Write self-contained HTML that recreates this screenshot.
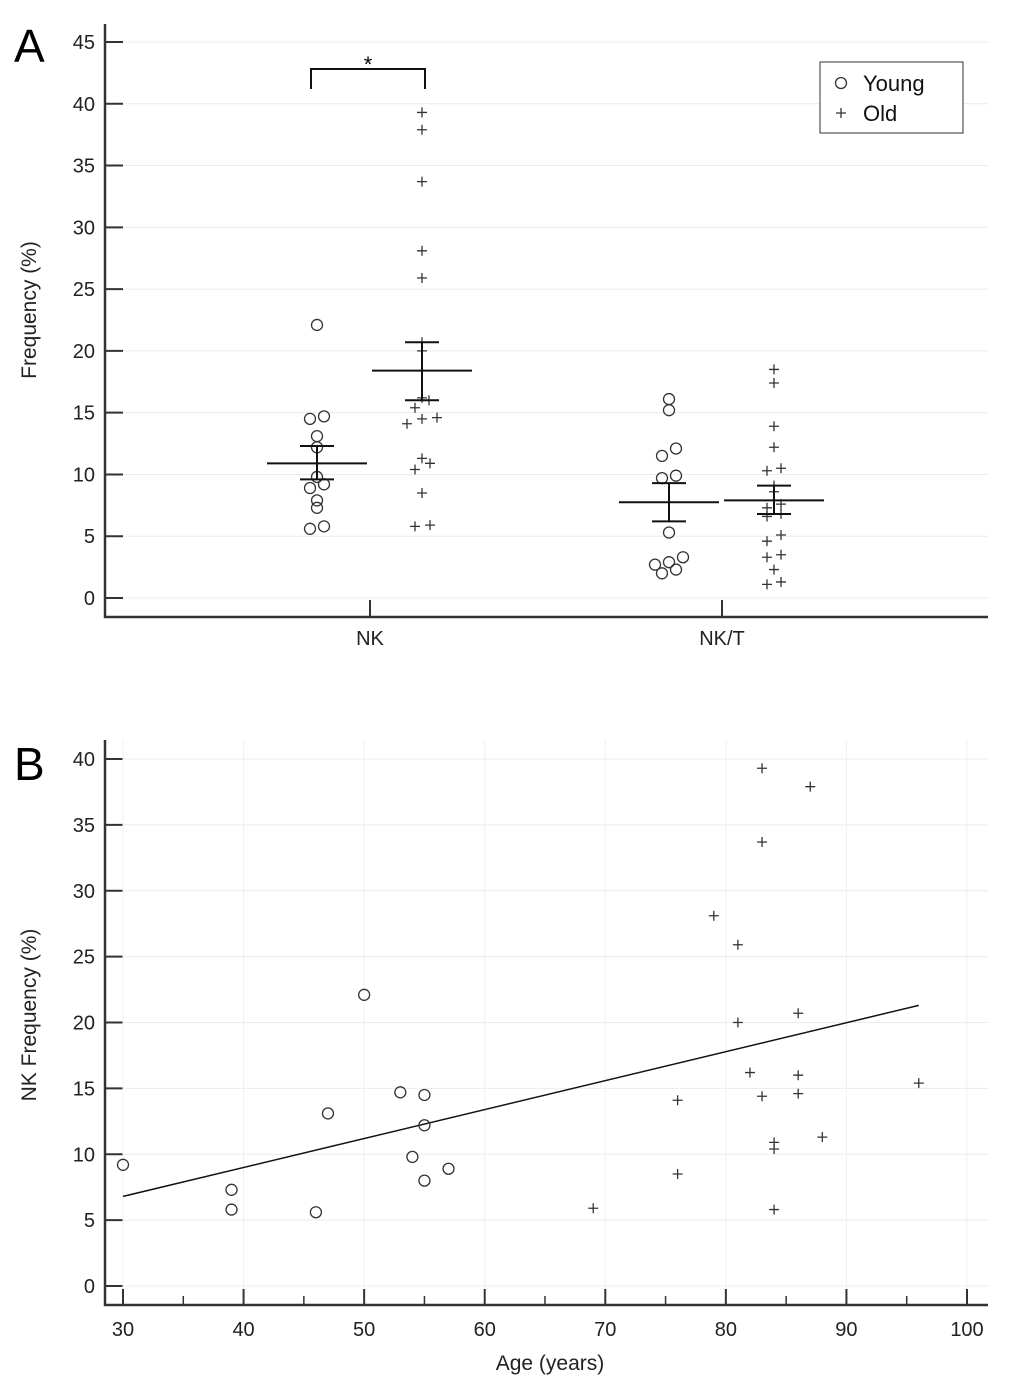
<!DOCTYPE html>
<html><head><meta charset="utf-8"><style>
html,body{margin:0;padding:0;background:#fff;}
svg{display:block;font-family:"Liberation Sans",sans-serif;}
</style></head><body>
<svg id="fig" width="1020" height="1396" viewBox="0 0 1020 1396" xmlns="http://www.w3.org/2000/svg">
<text x="14" y="62" font-size="46">A</text>
<text x="14" y="780" font-size="46">B</text>
<text transform="translate(36,310) rotate(-90)" text-anchor="middle" font-size="21" fill="#222">Frequency (%)</text>
<text transform="translate(36,1015) rotate(-90)" text-anchor="middle" font-size="21" fill="#222">NK Frequency (%)</text>
<text x="550" y="1370" text-anchor="middle" font-size="21" fill="#222">Age (years)</text>
<g id="ga"></g>
<g id="gb"></g>
</svg>
<script>
// Panel A data
const groups = ["NK","NK/T"];
const nkYoung = [22.1,14.7,14.5,13.1,12.2,9.8,9.2,8.9,7.9,7.3,5.8,5.6];
const nkOld = [39.3,37.9,33.7,28.1,25.9,20.7,20.0,16.2,16.0,15.4,14.6,14.5,14.1,11.3,10.9,10.4,8.5,5.8,5.9];
const nktYoung = [16.1,15.2,12.1,11.5,9.9,9.7,5.3,3.3,2.9,2.7,2.3,2.0];
const nktOld = [18.5,17.4,13.9,12.2,10.5,10.3,9.1,8.6,7.6,7.3,6.8,6.6,5.1,4.6,3.5,3.3,2.3,1.3,1.1];
const means = [10.9,18.4,7.75,7.9];
const semLo = [9.6,16.0,6.2,6.8];
const semHi = [12.3,20.7,9.3,9.1];
const yTicksA = [0,5,10,15,20,25,30,35,40,45];
// jitter (visual spread) offsets
const jNkY=[0,7,-7,0,0,0,7,-7,0,0,7,-7];
const jNkO=[0,0,0,0,0,0,0,0,7,-7,15,0,-15,0,8,-7,0,-7,8];
const jNktY=[0,0,7,-7,7,-7,0,14,0,-14,7,-7];
const jNktO=[0,0,0,0,7,-7,0,0,7,-7,7,-7,7,-7,7,-7,0,7,-7];
// Panel B data
const ageYoung=[30,39,39,46,47,50,53,54,55,55,55,57];
const nkfYoung=[9.2,7.3,5.8,5.6,13.1,22.1,14.7,9.8,14.5,12.2,8.0,8.9];
const ageOld=[69,76,76,79,81,81,82,83,83,83,84,84,84,86,86,86,87,88,96];
const nkfOld=[5.9,14.1,8.5,28.1,25.9,20.0,16.2,39.3,33.7,14.4,10.9,10.4,5.8,20.7,16.0,14.6,37.9,11.3,15.4];
const fitAge=[30,96];
const fitVal=[6.8,21.3];
const yTicksB=[0,5,10,15,20,25,30,35,40];
const xTicksB=[30,40,50,60,70,80,90,100];

const NS="http://www.w3.org/2000/svg";
function mk(p,tag,at){const e=document.createElementNS(NS,tag);for(const k in at)e.setAttribute(k,at[k]);p.appendChild(e);return e;}
const ga=document.getElementById('ga'), gb=document.getElementById('gb');
const yA=v=>598-v*(556/45);
const xA=[317,422,669,774];
// grid A
yTicksA.forEach(v=>{
 const g=mk(ga,'line',{x1:105,x2:988,y1:yA(v),y2:yA(v),stroke:'#ececec','stroke-width':1});
 
 
 const t=mk(ga,'line',{x1:105,x2:123,y1:yA(v),y2:yA(v),stroke:'#333','stroke-width':2});
 
 
 const l=mk(ga,'text',{x:95,y:yA(v)+7,'text-anchor':'end','font-size':20,fill:'#222'});l.textContent=v;
 
 
});
const axA=mk(ga,'path',{d:'M105,24 V617 H988',fill:'none',stroke:'#333','stroke-width':2.5});


[370,722].forEach((x,i)=>{
 const t=mk(ga,'line',{x1:x,x2:x,y1:617,y2:600,stroke:'#333','stroke-width':2});
 
 
 const l=mk(ga,'text',{x:x,y:645,'text-anchor':'middle','font-size':20,fill:'#222'});l.textContent=groups[i];
 
 
});
function circ(g,cx,cy){const c=mk(g,'circle',{cx:cx,cy:cy,r:5.5,fill:'none',stroke:'#333','stroke-width':1.3});
 
 }
function plus(g,cx,cy){const p=mk(g,'path',{d:`M${cx-5},${cy}H${cx+5}M${cx},${cy-5}V${cy+5}`,stroke:'#333','stroke-width':1.3});
 
 }
nkYoung.forEach((v,i)=>circ(ga,xA[0]+jNkY[i],yA(v)));
nkOld.forEach((v,i)=>plus(ga,xA[1]+jNkO[i],yA(v)));
nktYoung.forEach((v,i)=>circ(ga,xA[2]+jNktY[i],yA(v)));
nktOld.forEach((v,i)=>plus(ga,xA[3]+jNktO[i],yA(v)));
means.forEach((m,i)=>{
 const x=xA[i]; const g=mk(ga,'g',{stroke:'#111','stroke-width':2});
 
 
 mk(g,'line',{x1:x-50,x2:x+50,y1:yA(m),y2:yA(m)});
 mk(g,'line',{x1:x,x2:x,y1:yA(semLo[i]),y2:yA(semHi[i])});
 mk(g,'line',{x1:x-17,x2:x+17,y1:yA(semLo[i]),y2:yA(semLo[i])});
 mk(g,'line',{x1:x-17,x2:x+17,y1:yA(semHi[i]),y2:yA(semHi[i])});
});
const br=mk(ga,'path',{d:'M311,89 V69 H425 V89',fill:'none',stroke:'#111','stroke-width':2});


const st=mk(ga,'text',{x:368,y:72,'text-anchor':'middle','font-size':22});st.textContent='*';


const lg=mk(ga,'g',{});


mk(lg,'rect',{x:820,y:62,width:143,height:71,fill:'#fff',stroke:'#333','stroke-width':1});
circ(lg,841,83); plus(lg,841,113);
const l1=mk(lg,'text',{x:863,y:91,'font-size':22,fill:'#111'});l1.textContent='Young';


const l2=mk(lg,'text',{x:863,y:121,'font-size':22,fill:'#111'});l2.textContent='Old';



// Panel B
const yB=v=>1286-v*(527/40);
const xB=a=>123+(a-30)*(844/70);
yTicksB.forEach(v=>{
 const g=mk(gb,'line',{x1:105,x2:988,y1:yB(v),y2:yB(v),stroke:'#ececec','stroke-width':1});
 
 
 const t=mk(gb,'line',{x1:105,x2:123,y1:yB(v),y2:yB(v),stroke:'#333','stroke-width':2});
 
 
 const l=mk(gb,'text',{x:95,y:yB(v)+7,'text-anchor':'end','font-size':20,fill:'#222'});l.textContent=v;
 
 
});
xTicksB.forEach(a=>{
 const g=mk(gb,'line',{x1:xB(a),x2:xB(a),y1:740,y2:1304,stroke:'#f0f0f0','stroke-width':1});
 
 
 const t=mk(gb,'line',{x1:xB(a),x2:xB(a),y1:1305,y2:1289,stroke:'#333','stroke-width':2});
 
 
 if(a<100){const m=mk(gb,'line',{x1:xB(a+5),x2:xB(a+5),y1:1305,y2:1296,stroke:'#333','stroke-width':1.5});
 
 }
 const l=mk(gb,'text',{x:xB(a),y:1336,'text-anchor':'middle','font-size':20,fill:'#222'});l.textContent=a;
 
 
});
const axB=mk(gb,'path',{d:'M105,740 V1305 H988',fill:'none',stroke:'#333','stroke-width':2.5});


const fit=mk(gb,'line',{x1:xB(fitAge[0]),y1:yB(fitVal[0]),x2:xB(fitAge[1]),y2:yB(fitVal[1]),stroke:'#111','stroke-width':1.5});


ageYoung.forEach((a,i)=>circ(gb,xB(a),yB(nkfYoung[i])));
ageOld.forEach((a,i)=>plus(gb,xB(a),yB(nkfOld[i])));
</script>
</body></html>
